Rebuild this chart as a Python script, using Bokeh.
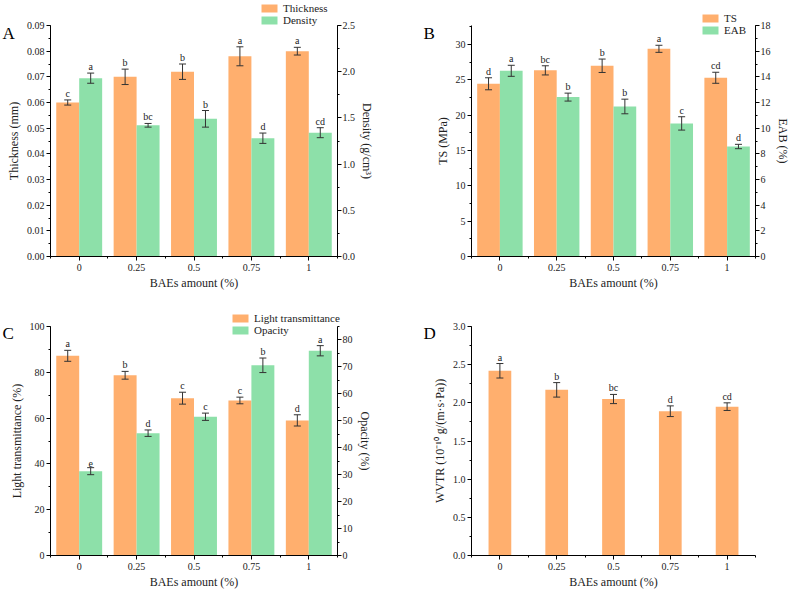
from bokeh.plotting import figure
from bokeh.models import (Range1d, LinearAxis, Whisker, ColumnDataSource, FixedTicker,
                          Legend, LegendItem, Label, SingleIntervalTicker, NumeralTickFormatter, TeeHead)
from bokeh.transform import dodge
from bokeh.core.properties import value
from bokeh.layouts import column, row
from bokeh.embed import file_html
from bokeh.resources import INLINE

# ---------------- data ----------------
amounts = ["0", "0.25", "0.5", "0.75", "1"]

thickness = [0.060, 0.070, 0.072, 0.078, 0.080]
thickness_err = [0.001, 0.003, 0.003, 0.0037, 0.0015]
thickness_sig = ["c", "b", "b", "a", "a"]
density = [1.93, 1.42, 1.49, 1.28, 1.34]
density_err = [0.055, 0.02, 0.09, 0.056, 0.054]
density_sig = ["a", "bc", "b", "d", "cd"]

ts = [24.45, 26.35, 27.0, 29.4, 25.3]
ts_err = [0.85, 0.65, 0.95, 0.5, 0.78]
ts_sig = ["d", "bc", "b", "a", "cd"]
eab = [14.47, 12.42, 11.69, 10.37, 8.57]
eab_err = [0.43, 0.31, 0.57, 0.52, 0.17]
eab_sig = ["a", "b", "b", "c", "d"]

light_trans = [87.2, 78.7, 68.7, 67.7, 59.0]
light_trans_err = [2.4, 1.7, 2.6, 1.45, 2.45]
light_trans_sig = ["a", "b", "c", "c", "d"]
opacity = [31.3, 45.4, 51.5, 70.6, 76.0]
opacity_err = [1.3, 1.2, 1.35, 2.7, 1.9]
opacity_sig = ["e", "d", "c", "b", "a"]

wvtr = [2.42, 2.17, 2.05, 1.89, 1.95]
wvtr_err = [0.095, 0.095, 0.06, 0.07, 0.05]
wvtr_sig = ["a", "b", "bc", "d", "cd"]

ORANGE = "#FFAF6E"
GREEN = "#8DE0A9"
FONT = "Liberation Serif"
INK = "#222222"

positions = list(range(len(amounts)))
x_lo = positions[0] - 0.5
x_hi = positions[-1] + 0.5


def style_axis(ax, label_standoff=2, title_standoff=3):
    ax.axis_line_color = "black"
    ax.axis_line_width = 1
    ax.major_tick_line_color = "black"
    ax.minor_tick_line_color = "black"
    ax.major_tick_in = 0
    ax.major_tick_out = 4
    ax.minor_tick_in = 0
    ax.minor_tick_out = 2
    ax.major_label_text_font = FONT
    ax.major_label_text_font_size = "10px"
    ax.major_label_text_color = INK
    ax.axis_label_text_font = FONT
    ax.axis_label_text_font_size = "12px"
    ax.axis_label_text_font_style = "normal"
    ax.axis_label_text_color = INK
    ax.major_label_standoff = label_standoff
    ax.axis_label_standoff = title_standoff


def y_span(top_val, H, yt, yb):
    unit = (yb - yt) / top_val
    return -(H - yb) / unit, top_val + yt / unit


def make_panel(W, H, box, y_top, y_interval, y_fmt, y_title, series,
               right=None, legend_loc=None, letter=None):
    xl, xr, yt, yb = box
    ux = (xr - xl) / (x_hi - x_lo)
    xs0 = x_lo - xl / ux
    xs1 = x_hi + (W - xr) / ux
    ys0, ys1 = y_span(y_top, H, yt, yb)
    p = figure(x_range=Range1d(xs0, xs1), y_range=Range1d(ys0, ys1),
               width=W, height=H, output_backend="svg", toolbar_location=None,
               min_border=0, min_border_left=0, min_border_right=0,
               min_border_top=0, min_border_bottom=0,
               outline_line_color=None, background_fill_color="white")
    p.xgrid.visible = False
    p.ygrid.visible = False

    yax = p.yaxis[0]
    yax.ticker = SingleIntervalTicker(interval=y_interval, num_minor_ticks=2)
    yax.formatter = NumeralTickFormatter(format=y_fmt)
    yax.axis_label = y_title
    yax.fixed_location = x_lo
    yax.bounds = (0, y_top)
    style_axis(yax)

    xax = p.xaxis[0]
    xax.ticker = FixedTicker(ticks=positions,
                             minor_ticks=[q - 0.5 for q in positions] + [x_hi])
    xax.major_label_overrides = {q: a for q, a in zip(positions, amounts)}
    xax.axis_label = "BAEs amount (%)"
    xax.fixed_location = 0
    xax.bounds = (x_lo, x_hi)
    style_axis(xax, label_standoff=3, title_standoff=2)

    if right is not None:
        r_top, r_interval, r_fmt, r_title = right
        rs0, rs1 = y_span(r_top, H, yt, yb)
        p.extra_y_ranges = {"right": Range1d(rs0, rs1)}
        ax = LinearAxis(y_range_name="right",
                        ticker=SingleIntervalTicker(interval=r_interval, num_minor_ticks=2),
                        formatter=NumeralTickFormatter(format=r_fmt), axis_label=r_title,
                        fixed_location=x_hi, bounds=(0, r_top))
        style_axis(ax, label_standoff=1, title_standoff=2)
        p.add_layout(ax, "right")

    items = []
    for vals, errs, sigs, color, off, rng, name in series:
        src = ColumnDataSource(dict(
            x=positions, top=vals,
            upper=[v + e for v, e in zip(vals, errs)],
            lower=[v - e for v, e in zip(vals, errs)],
            sig=sigs))
        xs = dodge("x", off)
        rend = p.vbar(x=xs, top="top", width=0.4, source=src, fill_color=color,
                      line_color=None, y_range_name=rng)
        w = Whisker(base=xs, upper="upper", lower="lower", source=src, y_range_name=rng,
                    line_color="#333333", line_width=1, level="overlay",
                    upper_head=TeeHead(size=7, line_color="#333333", line_width=1),
                    lower_head=TeeHead(size=7, line_color="#333333", line_width=1))
        p.add_layout(w)
        p.text(x=xs, y="upper", text="sig", source=src, y_range_name=rng,
               text_align="center", text_baseline="bottom", y_offset=-1,
               text_font=value(FONT), text_font_size="10px", text_color=INK)
        if name:
            items.append(LegendItem(label=name, renderers=[rend]))

    if items and legend_loc is not None:
        leg = Legend(items=items, location=legend_loc, padding=0, margin=0, spacing=0,
                     glyph_width=20, glyph_height=10, label_height=10, label_standoff=4,
                     label_text_font=FONT, label_text_font_size="11px",
                     label_text_color=INK, border_line_color=None,
                     background_fill_alpha=0)
        p.add_layout(leg)

    if letter:
        txt, lx, ly = letter
        p.add_layout(Label(x=lx, y=ly, x_units="screen", y_units="screen", text=txt,
                           text_font=FONT, text_font_size="17px", text_color="black",
                           text_baseline="alphabetic"))
    return p


# panel boxes: (axis left px, axis right px, axis top px, axis bottom px) inside each figure
pA = make_panel(395, 300, (50, 337, 25, 256), 0.09, 0.01, "0.00", "Thickness (mm)",
                [(thickness, thickness_err, thickness_sig, ORANGE, -0.2, "default", "Thickness"),
                 (density, density_err, density_sig, GREEN, 0.2, "right", "Density")],
                right=(2.5, 0.5, "0.0", "Density (g/cm\u00b3)"),
                legend_loc=(259, 274), letter=("A", 2, 267))

pB = make_panel(395, 300, (76, 360, 25, 256), 32.7, 5, "0", "TS (MPa)",
                [(ts, ts_err, ts_sig, ORANGE, -0.2, "default", "TS"),
                 (eab, eab_err, eab_sig, GREEN, 0.2, "right", "EAB")],
                right=(18, 2, "0", "EAB (%)"),
                legend_loc=(305, 264), letter=("B", 28, 267))

pC = make_panel(395, 290, (50, 337, 26, 255), 100, 20, "0", "Light transmittance (%)",
                [(light_trans, light_trans_err, light_trans_sig, ORANGE, -0.2, "default", "Light transmittance"),
                 (opacity, opacity_err, opacity_sig, GREEN, 0.2, "right", "Opacity")],
                right=(85, 10, "0", "Opacity (%)"),
                legend_loc=(230, 254), letter=("C", 2, 257))

pD = make_panel(395, 290, (76, 360, 26, 255), 3.0, 0.5, "0.0",
                "WVTR (10\u207b\u00b9\u2070 g/(m\u00b7s\u00b7Pa))",
                [(wvtr, wvtr_err, wvtr_sig, ORANGE, 0.0, "default", None)],
                letter=("D", 28, 257))

layout = column(row(pA, pB), row(pC, pD))
open("out.html", "w").write(file_html(layout, INLINE))
